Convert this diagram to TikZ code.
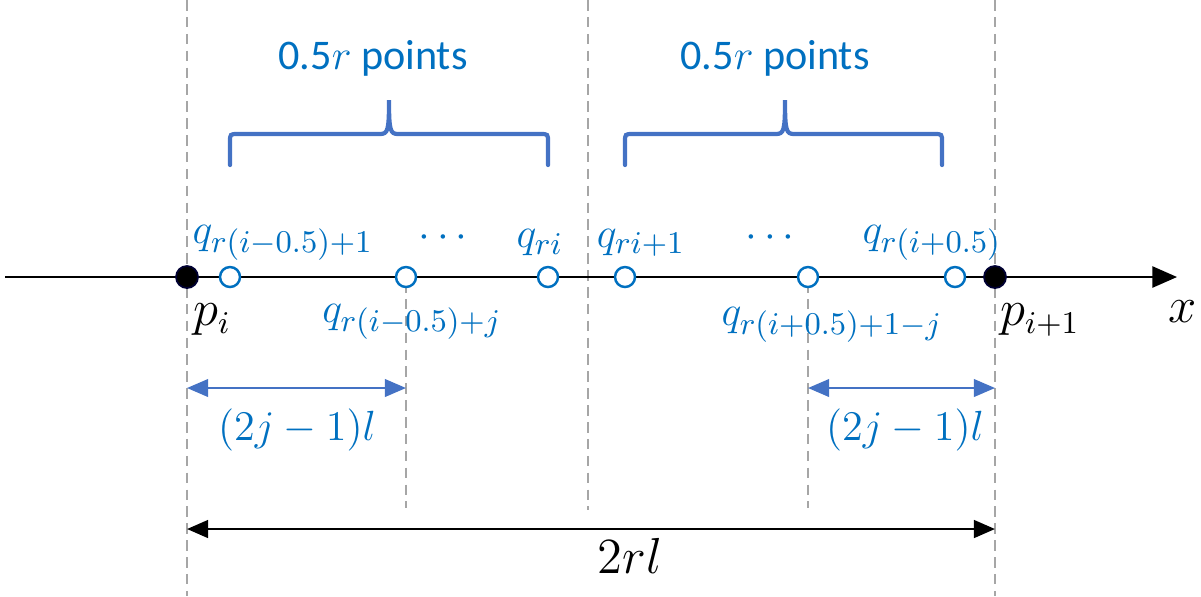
\documentclass[tikz,border=0pt]{standalone}
\usepackage{fontspec}
\setmainfont{Carlito}
\usetikzlibrary{arrows.meta}
\definecolor{PtBlue}{HTML}{0070C0}
\definecolor{BraceBlue}{HTML}{4472C4}
\definecolor{GuideGrey}{HTML}{A6A6A6}

\begin{document}
\begin{tikzpicture}[x=0.01cm, y=-0.01cm,
  guide/.style={draw=GuideGrey, line width=0.6pt, dash pattern=on 3pt off 1.8pt},
  axis/.style={draw=black, line width=0.6pt, -{Triangle[length=7pt, width=6pt]}},
  sample/.style={circle, draw=PtBlue, fill=white, line width=0.7pt, minimum size=0.2cm, inner sep=0pt},
  endpt/.style={circle, draw=black!80!blue, fill=black, line width=0.5pt, minimum size=0.22cm, inner sep=0pt},
  qlabel/.style={text=PtBlue, font=\fontsize{13}{15}\selectfont, inner sep=1pt},
  plabel/.style={text=black, font=\fontsize{13.5}{15}\selectfont, inner sep=1pt},
  bracket/.style={draw=BraceBlue, line width=1.2pt, line cap=round},
  span/.style={draw=BraceBlue, line width=0.6pt, {Triangle[length=6pt, width=5pt]}-{Triangle[length=6pt, width=5pt]}},
  total/.style={draw=black, line width=0.8pt, {Triangle[length=6pt, width=5pt]}-{Triangle[length=6pt, width=5pt]}}
]
  \useasboundingbox (0,0) rectangle (1201,596);

  % guide lines
  \coordinate (gAtop) at (187,0);   \coordinate (gAbot) at (187,596);
  \coordinate (gBtop) at (406,282); \coordinate (gBbot) at (406,508);
  \coordinate (gCtop) at (588,0);   \coordinate (gCbot) at (588,510);
  \coordinate (gDtop) at (808,282); \coordinate (gDbot) at (808,508);
  \coordinate (gEtop) at (995,0);   \coordinate (gEbot) at (995,596);
  \draw[guide] (gAtop) -- (gAbot);
  \draw[guide] (gBtop) -- (gBbot);
  \draw[guide] (gCtop) -- (gCbot);
  \draw[guide] (gDtop) -- (gDbot);
  \draw[guide] (gEtop) -- (gEbot);

  % axis
  \coordinate (xstart) at (5,277);
  \coordinate (xend) at (1177,277);
  \draw[axis] (xstart) -- (xend);

  % points on the axis
  \node[endpt] (pi) at (187,277) {};
  \node[endpt] (pnext) at (995,277) {};
  \node[sample] (q1) at (230,277) {};
  \node[sample] (qj) at (406,277) {};
  \node[sample] (qri) at (548,277) {};
  \node[sample] (qri1) at (625,277) {};
  \node[sample] (qjr) at (808,277) {};
  \node[sample] (qlast) at (955,277) {};

  % labels above the axis
  \node[qlabel] (lq1) at (283,243) {$q_{r(i-0.5)+1}$};
  \node[qlabel] (ldotsA) at (443,238) {$\cdots$};
  \node[qlabel] (lqri) at (540,243) {$q_{ri}$};
  \node[qlabel] (lqri1) at (641,243) {$q_{ri+1}$};
  \node[qlabel] (ldotsB) at (770,238) {$\cdots$};
  \node[qlabel] (lqlast) at (932,243) {$q_{r(i+0.5)}$};

  % labels below the axis
  \node[plabel] (lpi) at (212,320) {$p_i$};
  \node[qlabel] (lqj) at (412,322) {$q_{r(i-0.5)+j}$};
  \node[qlabel] (lqjr) at (832,325) {$q_{r(i+0.5)+1-j}$};
  \node[plabel] (lpnext) at (1040,320) {$p_{i+1}$};
  \node[plabel] (lx) at (1183,312) {$x$};

  % braces
  \draw[bracket] (230,165) -- (230,142) .. controls (230,134) .. (238,134)
    -- (380,134) .. controls (388,134) and (389,130) .. (389,100)
    .. controls (389,130) and (390,134) .. (398,134)
    -- (540,134) .. controls (548,134) .. (548,142) -- (548,165);
  \draw[bracket] (625,165) -- (625,142) .. controls (625,134) .. (633,134)
    -- (776,134) .. controls (784,134) and (785,130) .. (785,100)
    .. controls (785,130) and (786,134) .. (794,134)
    -- (934,134) .. controls (942,134) .. (942,142) -- (942,165);
  \node[qlabel, font=\fontsize{12}{14}\selectfont] (countA) at (373,58) {0.5$r$ points};
  \node[qlabel, font=\fontsize{12}{14}\selectfont] (countB) at (775,58) {0.5$r$ points};

  % distances
  \coordinate (dAl) at (187,388); \coordinate (dAr) at (406,388);
  \coordinate (dBl) at (808,388); \coordinate (dBr) at (995,388);
  \draw[span] (dAl) -- (dAr);
  \draw[span] (dBl) -- (dBr);
  \node[qlabel] (lenA) at (297,430) {$(2j-1)l$};
  \node[qlabel] (lenB) at (905,430) {$(2j-1)l$};

  \coordinate (tl) at (187,529); \coordinate (tr) at (995,529);
  \draw[total] (tl) -- (tr);
  \node[plabel] (lenT) at (630,556) {$2rl$};
\end{tikzpicture}
\end{document}
